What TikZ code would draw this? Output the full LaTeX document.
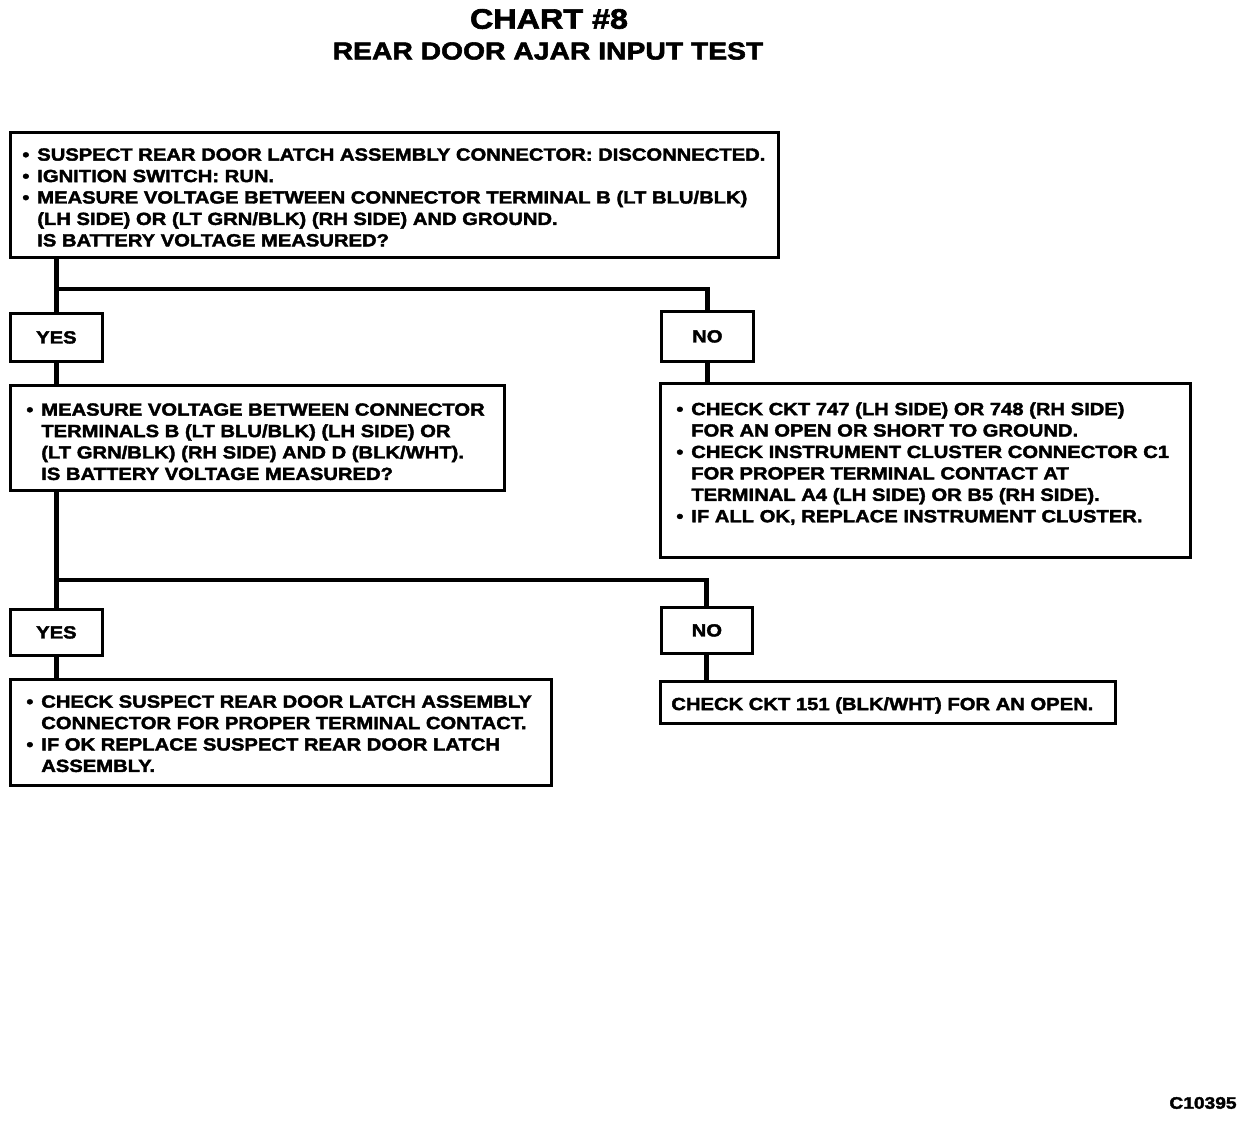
\documentclass[tikz,border=0pt]{standalone}
\usepackage{fontspec}
\setmainfont{Liberation Sans}[FakeStretch=1.15, BoldFeatures={FakeBold=2.2}]
\usetikzlibrary{calc}
\newcommand{\bl}{\makebox[8.5pt][l]{•}}
\newcommand{\hi}{\hspace*{8.5pt}}
\begin{document}
\begin{tikzpicture}[x=0.02cm,y=-0.02cm,
  box/.style={draw, line width=1.6pt, rectangle, inner sep=0pt, anchor=north west},
  ans/.style={box, minimum width=1.84cm, minimum height=0.96cm, font=\bfseries\fontsize{10}{12}\selectfont},
  conn/.style={line width=2.8pt},
  txt/.style={anchor=north west, inner sep=0pt, align=left, font=\bfseries\fontsize{10}{12.2}\selectfont},
  ttl/.style={inner sep=0pt, font=\bfseries}]
\useasboundingbox (0,0) rectangle (1248,1120);
% titles
\node[ttl, font=\bfseries\fontsize{16}{18}\selectfont] (title) at (549,19) {CHART \#8};
\node[ttl, font=\bfseries\fontsize{14}{16}\selectfont] (subtitle) at (548,51) {REAR DOOR AJAR INPUT TEST};
% boxes
\node[box, minimum width=15.36cm, minimum height=2.5cm] (box1) at (9,131) {};
\node[txt] (t1) at (22,148) {\bl SUSPECT REAR DOOR LATCH ASSEMBLY CONNECTOR: DISCONNECTED.\\
\bl IGNITION SWITCH: RUN.\\
\bl MEASURE VOLTAGE BETWEEN CONNECTOR TERMINAL B (LT BLU/BLK)\\
\hi (LH SIDE) OR (LT GRN/BLK) (RH SIDE) AND GROUND.\\
\hi IS BATTERY VOLTAGE MEASURED?};
\node[ans] (yes1) at (9,312) {YES};
\node[ans, minimum height=1.0cm] (no1) at (660,310) {NO};
\node[box, minimum width=9.88cm, minimum height=2.1cm] (box2) at (9,384) {};
\node[txt] (t2) at (26,403) {\bl MEASURE VOLTAGE BETWEEN CONNECTOR\\
\hi TERMINALS B (LT BLU/BLK) (LH SIDE) OR\\
\hi (LT GRN/BLK) (RH SIDE) AND D (BLK/WHT).\\
\hi IS BATTERY VOLTAGE MEASURED?};
\node[box, minimum width=10.6cm, minimum height=3.48cm] (res1) at (659,382) {};
\node[txt] (t3) at (676,402) {\bl CHECK CKT 747 (LH SIDE) OR 748 (RH SIDE)\\
\hi FOR AN OPEN OR SHORT TO GROUND.\\
\bl CHECK INSTRUMENT CLUSTER CONNECTOR C1\\
\hi FOR PROPER TERMINAL CONTACT AT\\
\hi TERMINAL A4 (LH SIDE) OR B5 (RH SIDE).\\
\bl IF ALL OK, REPLACE INSTRUMENT CLUSTER.};
\node[ans, minimum height=0.92cm] (yes2) at (9,608) {YES};
\node[ans, minimum height=0.92cm, minimum width=1.82cm] (no2) at (660,606) {NO};
\node[box, minimum width=10.82cm, minimum height=2.12cm] (box3) at (9,678) {};
\node[txt] (t4) at (26,695) {\bl CHECK SUSPECT REAR DOOR LATCH ASSEMBLY\\
\hi CONNECTOR FOR PROPER TERMINAL CONTACT.\\
\bl IF OK REPLACE SUSPECT REAR DOOR LATCH\\
\hi ASSEMBLY.};
\node[box, minimum width=9.1cm, minimum height=0.84cm] (res2) at (659,680) {};
\node[txt] (t5) at (671,697) {CHECK CKT 151 (BLK/WHT) FOR AN OPEN.};
% connectors
\coordinate (j1) at (57,289);
\coordinate (j2) at (57,580);
\draw[conn] (box1.south -| yes1.north) -- (yes1.north);
\draw[conn] (j1 -| yes1.north) -| (no1.north);
\draw[conn] (yes1.south) -- (yes1.south |- box2.north);
\draw[conn] (no1.south) -- (no1.south |- res1.north);
\draw[conn] (box2.south -| yes2.north) -- (yes2.north);
\draw[conn] (j2 -| yes2.north) -| (no2.north);
\draw[conn] (yes2.south) -- (yes2.south |- box3.north);
\draw[conn] (no2.south) -- (no2.south |- res2.north);
% figure code
\node[ttl, font=\bfseries\fontsize{9.5}{11}\selectfont] (code) at (1203,1103) {C10395};
\end{tikzpicture}
\end{document}
